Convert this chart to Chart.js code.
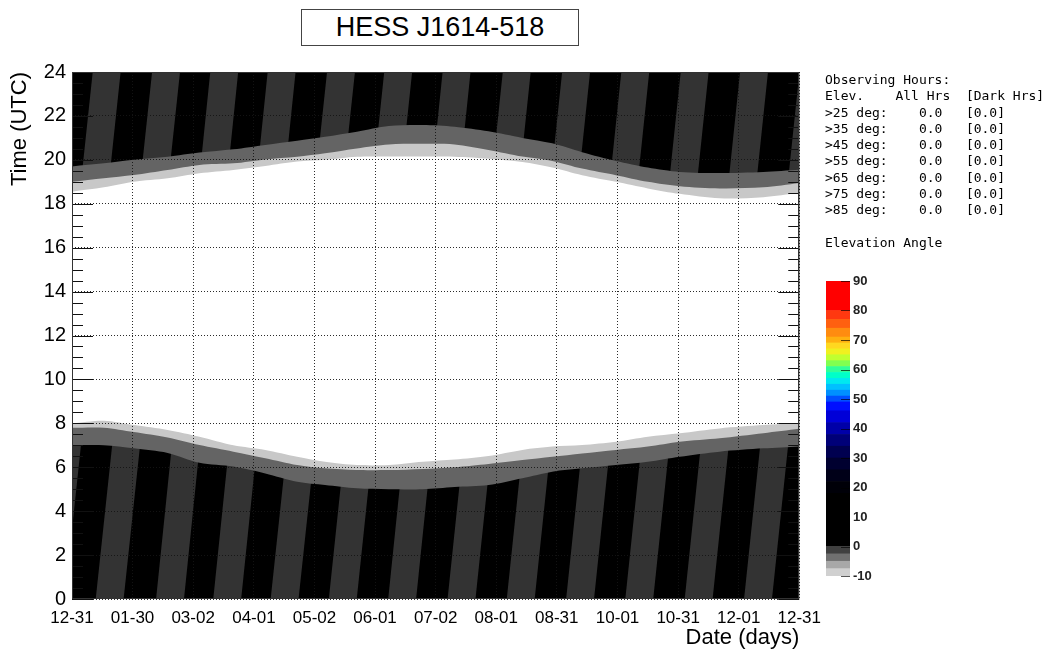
<!DOCTYPE html>
<html>
<head>
<meta charset="utf-8">
<title>HESS J1614-518 visibility</title>
<script src="https://cdn.jsdelivr.net/npm/chart.js@4.4.1/dist/chart.umd.min.js"></script>
<style>
  html, body { margin: 0; padding: 0; background: #fff; }
  body { width: 1044px; height: 655px; position: relative; overflow: hidden; font-family: "Liberation Sans", Arial, sans-serif; }
  #title { position: absolute; left: 301px; top: 9px; width: 276px; height: 35px; border: 1px solid #444;
           font-size: 27px; line-height: 35px; text-align: center; color: #000; }
  #main { position: absolute; left: 0; top: 0; }
  #palette { position: absolute; left: 815px; top: 270px; }
  #hours { position: absolute; left: 825px; top: 72px; margin: 0; font-family: "DejaVu Sans Mono", monospace;
           font-size: 13px; line-height: 16.3px; color: #000; }
</style>
</head>
<body>
<div id="title">HESS J1614-518</div>
<canvas id="main" width="830" height="655"></canvas>
<pre id="hours"></pre>
<canvas id="palette" width="229" height="320"></canvas>
<script>
// date axis: days after 12-31, with the month labels used on the axis
const xTickDays = [0, 30.4, 60.8, 91.3, 121.7, 152.1, 182.5, 212.9, 243.3, 273.8, 304.2, 334.6, 365];
const xTickLabels = ['12-31', '01-30', '03-02', '04-01', '05-02', '06-01', '07-02',
                     '08-01', '08-31', '10-01', '10-31', '12-01', '12-31'];

// twilight boundaries (hours UTC) sampled over the year
const sampleDays = [0, 16, 31, 48, 64, 81, 97, 113, 127, 143, 159, 176, 192, 209, 226, 241, 256, 273, 289, 305, 325, 347, 365];
// morning: end of dark, end of deep twilight, sunrise
const morningDark  = [7.0, 7.0, 6.86, 6.65, 6.2, 6.03, 5.72, 5.34, 5.19, 5.04, 5.0, 5.0, 5.1, 5.19, 5.5, 5.8, 5.95, 6.1, 6.25, 6.48, 6.71, 6.86, 6.95];
const morningTwi   = [7.8, 7.8, 7.6, 7.35, 7.01, 6.71, 6.41, 6.1, 5.95, 5.87, 5.87, 5.92, 6.0, 6.15, 6.33, 6.48, 6.63, 6.79, 6.94, 7.16, 7.32, 7.55, 7.75];
const morningSun   = [8.0, 8.12, 7.92, 7.7, 7.39, 7.0, 6.79, 6.48, 6.25, 6.1, 6.1, 6.25, 6.35, 6.51, 6.79, 6.94, 7.01, 7.16, 7.39, 7.55, 7.77, 7.92, 8.0];
// evening: sunset, end of light twilight, start of dark
const eveningSun   = [18.55, 18.75, 19.0, 19.16, 19.39, 19.54, 19.72, 19.92, 20.0, 20.14, 20.15, 20.15, 20.14, 20.05, 19.9, 19.65, 19.3, 19.0, 18.7, 18.45, 18.25, 18.3, 18.5];
const eveningTwi   = [19.0, 19.16, 19.31, 19.54, 19.77, 19.84, 20.02, 20.14, 20.3, 20.52, 20.7, 20.73, 20.7, 20.45, 20.15, 19.95, 19.6, 19.3, 19.0, 18.8, 18.7, 18.75, 18.95];
const eveningDark  = [19.7, 19.84, 20.0, 20.14, 20.33, 20.48, 20.68, 20.87, 21.05, 21.28, 21.54, 21.59, 21.51, 21.3, 21.0, 20.75, 20.35, 19.95, 19.65, 19.45, 19.4, 19.45, 19.55];

// moonlit bands: left edge (day) at 00:00 and at 24:00, band width in days
const moonStart0  = [-17.7, 11.9, 42.2, 70.9, 99.7, 128.9, 158.7, 188.5, 218.2, 248.0, 277.7, 307.5, 337.3];
const moonStart24 = [10.4, 40.2, 69.4, 98.2, 128.0, 156.7, 186.0, 216.2, 246.0, 275.7, 305.5, 335.3, 365.1];
const moonWidth = 14;

// observing hours table
const hoursElev = [25, 35, 45, 55, 65, 75, 85];
const hoursAll  = [0.0, 0.0, 0.0, 0.0, 0.0, 0.0, 0.0];
const hoursDark = [0.0, 0.0, 0.0, 0.0, 0.0, 0.0, 0.0];

// elevation colour scale: segment edges and colours
const paletteEdges = [-10, -7.5, -5, -2.5, 0, 18, 22, 26, 30, 34, 38, 42, 46, 49, 51, 53, 55, 57, 59, 61, 63, 65, 67, 69, 71, 74, 77, 80, 90];
const paletteColors = ['#d0d0d0', '#a8a8a8', '#707070', '#404040', '#000000', '#000008', '#000018', '#000030',
                       '#000050', '#000078', '#0000a8', '#0000d8', '#0010ff', '#0050ff', '#0090ff', '#00c0ff',
                       '#00e8f0', '#00ffc8', '#30ff98', '#80ff50', '#c0ff30', '#f0f020', '#ffd820', '#ffb010',
                       '#ff8c10', '#ff6010', '#ff3810', '#ff0000'];

Chart.defaults.font.family = '"Liberation Sans", Arial, sans-serif';
Chart.defaults.color = '#000';

const lines = ['Observing Hours:', 'Elev.    All Hrs  [Dark Hrs]'];
hoursElev.forEach((e, i) => {
  lines.push('>' + e + ' deg:    ' + hoursAll[i].toFixed(1) + '   [' + hoursDark[i].toFixed(1) + ']');
});
lines.push('', 'Elevation Angle');
document.getElementById('hours').textContent = lines.join('\n');

function curve(values) {
  return sampleDays.map((d, i) => ({ x: d, y: values[i] }));
}

function band(values, target, color) {
  return {
    data: curve(values),
    borderWidth: 0,
    pointRadius: 0,
    tension: 0.3,
    fill: target === null ? false : target,
    backgroundColor: color,
  };
}

const datasets = [
  band(morningSun, 1, '#ffffff'),
  band(eveningSun, null, '#ffffff'),
  band(morningTwi, 3, '#c8c8c8'),
  band(eveningTwi, null, '#c8c8c8'),
  band(morningDark, 5, '#646464'),
  band(eveningDark, null, '#646464'),
];

moonStart0.forEach((b, i) => {
  const t = moonStart24[i];
  datasets.push({
    data: [{ x: b, y: 0 }, { x: t, y: 24 }, { x: t + moonWidth, y: 24 }, { x: b + moonWidth, y: 0 }, { x: b, y: 0 }],
    borderWidth: 0,
    pointRadius: 0,
    fill: 'shape',
    backgroundColor: '#333333',
  });
});

// black night background, inner axis ticks and frame
const plotFrame = {
  id: 'plotFrame',
  beforeDatasetsDraw(chart) {
    const { ctx, chartArea: a } = chart;
    ctx.save();
    ctx.fillStyle = '#000';
    ctx.fillRect(a.left, a.top, a.right - a.left, a.bottom - a.top);
    ctx.restore();
  },
  afterDraw(chart) {
    const { ctx, chartArea: a, scales: { y } } = chart;
    ctx.save();
    ctx.strokeStyle = '#111';
    ctx.lineWidth = 1;
    ctx.beginPath();
    for (let t = 0; t <= 24; t += 0.5) {
      const py = Math.round(y.getPixelForValue(t)) + 0.5;
      const len = t % 2 === 0 ? 21 : 11;
      ctx.moveTo(a.left, py); ctx.lineTo(a.left + len, py);
      ctx.moveTo(a.right, py); ctx.lineTo(a.right - len, py);
    }
    ctx.stroke();
    ctx.strokeStyle = '#333';
    ctx.strokeRect(Math.round(a.left) + 0.5, Math.round(a.top) + 0.5,
                   Math.round(a.right - a.left) - 1, Math.round(a.bottom - a.top) - 1);
    ctx.restore();
  }
};

const dotted = {
  color: 'rgba(20,20,20,0.9)',
  lineWidth: 1,
  drawTicks: false,
  z: 1,
};

new Chart(document.getElementById('main'), {
  type: 'line',
  data: { datasets },
  options: {
    responsive: false,
    animation: false,
    events: [],
    layout: { padding: { top: 72, right: 22, left: 0, bottom: 0 } },
    plugins: { legend: { display: false }, tooltip: { enabled: false } },
    scales: {
      x: {
        type: 'linear',
        min: 0,
        max: 365,
        afterBuildTicks: (axis) => { axis.ticks = xTickDays.map((v) => ({ value: v })); },
        afterFit: (axis) => { axis.height = 56; },
        ticks: {
          callback: (value, index) => xTickLabels[index],
          autoSkip: false,
          maxRotation: 0,
          padding: 9,
          font: { size: 17 },
        },
        grid: dotted,
        border: { display: false, dash: [1, 2] },
        title: { display: true, text: 'Date (days)', align: 'end', font: { size: 22 }, padding: { top: 2, bottom: 4 } },
      },
      y: {
        type: 'linear',
        min: 0,
        max: 24,
        afterFit: (axis) => { axis.width = 72; },
        ticks: { stepSize: 2, padding: 6, font: { size: 20 } },
        grid: dotted,
        border: { display: false, dash: [1, 2] },
        title: { display: true, text: 'Time (UTC)', align: 'end', font: { size: 22 }, padding: { top: 7, bottom: 2 } },
      },
    },
  },
  plugins: [plotFrame],
});

// colour scale for the elevation angle
const paletteTicks = {
  id: 'paletteTicks',
  afterDatasetsDraw(chart) {
    const { ctx, chartArea: a, scales: { y } } = chart;
    ctx.save();
    ctx.strokeStyle = 'rgba(0,0,0,0.65)';
    ctx.lineWidth = 1;
    ctx.beginPath();
    for (let v = -10; v <= 90; v += 10) {
      const py = Math.round(y.getPixelForValue(v)) + 0.5;
      ctx.moveTo(a.right - 9, py);
      ctx.lineTo(a.right, py);
    }
    ctx.stroke();
    ctx.restore();
  }
};

new Chart(document.getElementById('palette'), {
  type: 'bar',
  data: {
    labels: [''],
    datasets: paletteColors.map((c, i) => ({
      data: [[paletteEdges[i], paletteEdges[i + 1]]],
      backgroundColor: c,
      borderWidth: 0,
      grouped: false,
      barPercentage: 1,
      categoryPercentage: 1,
    })),
  },
  options: {
    responsive: false,
    animation: false,
    events: [],
    layout: { padding: { top: 11, bottom: 14, left: 11, right: 0 } },
    plugins: { legend: { display: false }, tooltip: { enabled: false } },
    scales: {
      x: { display: false },
      y: {
        position: 'right',
        min: -10,
        max: 90,
        afterFit: (axis) => { axis.width = 194; },
        ticks: { stepSize: 10, padding: 3, font: { size: 13, weight: 'bold' }, color: '#222' },
        grid: { display: false, drawTicks: false },
        border: { display: false },
      },
    },
  },
  plugins: [paletteTicks],
});
</script>
</body>
</html>
